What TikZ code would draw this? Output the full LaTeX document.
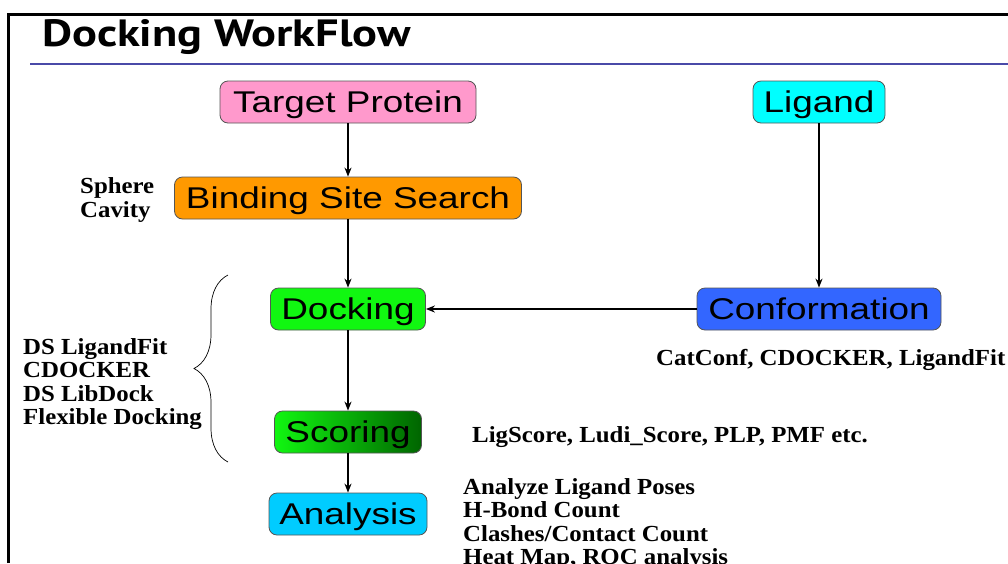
\documentclass[tikz,border=0pt]{standalone}
\usepackage{fontspec}
\setmainfont{Liberation Serif}
\newfontfamily\boxfont[FakeStretch=1.23]{Liberation Sans}
\newfontfamily\labfont[FakeStretch=1.08]{Liberation Serif}
\newfontfamily\titfont[FakeStretch=1.22]{PT Sans}
\usetikzlibrary{arrows.meta,decorations.pathreplacing}
\definecolor{pinkbox}{HTML}{FF99CC}
\definecolor{orangebox}{HTML}{FF9900}
\definecolor{cyanbox}{HTML}{00FFFF}
\definecolor{greenbox}{HTML}{11F711}
\definecolor{darkgreen}{HTML}{006400}
\definecolor{bluebox}{HTML}{3366FF}
\definecolor{skybox}{HTML}{00CCFF}
\definecolor{ruleblue}{HTML}{4A4AA8}
\definecolor{edgegray}{HTML}{555555}
\tikzset{
  flowbox/.style={draw=edgegray, line width=0.8pt, rounded corners=8pt, minimum height=42pt,
    inner sep=0pt, text height=21.5pt, text depth=0pt, font=\boxfont\fontsize{30}{34}\selectfont},
  lab/.style={inner sep=0pt, align=left, font=\labfont\bfseries\fontsize{23}{23.4}\selectfont},
  arr/.style={line width=1.8pt, -{Stealth[length=9pt,width=7pt]}},
}
\begin{document}
\begin{tikzpicture}[x=1pt,y=-1pt]
\useasboundingbox (0,0) rectangle (1008,563);
\fill[white] (0,0) rectangle (1008,563);
% frame and title
\draw[line width=3pt] (8,563) -- (8,14) -- (1010,14);
\node[anchor=west, inner sep=0pt, font=\titfont\bfseries\fontsize{38}{40}\selectfont] (title) at (42,37) {Docking WorkFlow};
\draw[ruleblue, line width=2pt] (30,64) -- (1010,64);
% boxes
\node[flowbox, fill=pinkbox, minimum width=256pt] (tp) at (348,102) {Target Protein};
\node[flowbox, fill=cyanbox, minimum width=132pt] (lig) at (819,102) {Ligand};
\node[flowbox, fill=orangebox, minimum width=347pt] (bss) at (348,198) {Binding Site Search};
\node[flowbox, fill=greenbox, minimum width=155pt] (dock) at (348,309) {Docking};
\node[flowbox, fill=bluebox, minimum width=244pt] (conf) at (819,309) {Conformation};
\node[flowbox, left color=greenbox, right color=darkgreen, minimum width=147pt] (score) at (348,432) {Scoring};
\node[flowbox, fill=skybox, minimum width=158pt] (anal) at (348,514) {Analysis};
% arrows
\draw[arr] (tp) -- (bss);
\draw[arr] (bss) -- (dock);
\draw[arr] (dock) -- (score);
\draw[arr] (score) -- (anal);
\draw[arr] (lig) -- (conf);
\draw[arr] (conf) -- (dock);
% labels
\node[lab, anchor=west] (sph) at (80,200) {Sphere\\Cavity};
\node[lab, anchor=west] (progs) at (23,384) {DS LigandFit\\CDOCKER\\DS LibDock\\Flexible Docking};
\node[lab, anchor=west] (cat) at (656,360) {CatConf, CDOCKER, LigandFit};
\node[lab, anchor=west] (lsc) at (472,437) {LigScore, Ludi\_Score, PLP, PMF etc.};
\node[lab, anchor=west] (ana) at (463,524) {Analyze Ligand Poses\\H-Bond Count\\Clashes/Contact Count\\Heat Map, ROC analysis};
% brace
\coordinate (bb) at (228,462);
\coordinate (bt) at (228,275);
\draw[line width=0.7pt, decorate, decoration={brace, amplitude=34pt, aspect=0.5}] (bb) -- (bt);
\end{tikzpicture}
\end{document}
